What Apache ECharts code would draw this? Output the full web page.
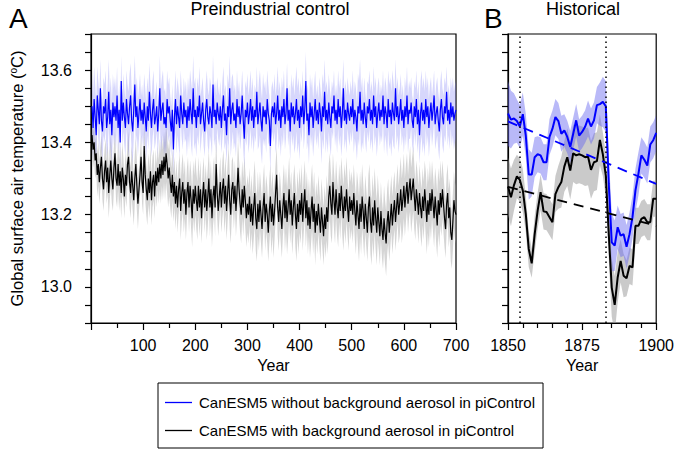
<!DOCTYPE html>
<html><head><meta charset="utf-8">
<script src="https://cdn.jsdelivr.net/npm/echarts@6/dist/echarts.min.js"></script>
<style>html,body{margin:0;padding:0;background:#fff}#c{width:677px;height:451px}</style>
</head><body><div id="c"></div>
<script>
const seriesNames = ['CanESM5 without background aerosol in piControl', 'CanESM5 with background aerosol in piControl'];
const panelTitles = ['Preindustrial control', 'Historical'];
const panelLetters = ['A', 'B'];
const yAxisTitle = 'Global surface air temperature (';
const xAxisTitle = 'Year';

// Panel A: preindustrial control, one value every 2 years (years 2..700)
const piYearStep = 2;
const piBlue = [
13.50,13.44,13.52,13.47,13.42,13.53,13.49,13.45,13.55,13.46,13.43,13.50,13.48,13.52,13.44,13.47,13.54,13.45,13.49,13.42,13.51,13.47,13.50,13.46,13.53,
13.44,13.49,13.40,13.57,13.46,13.51,13.47,13.44,13.52,13.48,13.45,13.50,13.53,13.46,13.43,13.49,13.56,13.47,13.50,13.44,13.48,13.52,13.46,13.49,13.45,
13.51,13.47,13.43,13.50,13.46,13.54,13.48,13.44,13.49,13.52,13.45,13.47,13.50,13.43,13.48,13.55,13.46,13.49,13.51,13.45,13.47,13.44,13.52,13.48,13.50,
13.46,13.43,13.49,13.38,13.47,13.52,13.45,13.50,13.47,13.44,13.53,13.48,13.45,13.51,13.47,13.49,13.44,13.50,13.46,13.52,13.48,13.45,13.55,13.47,13.49,
13.44,13.50,13.47,13.53,13.45,13.48,13.51,13.46,13.43,13.49,13.52,13.47,13.45,13.50,13.48,13.44,13.56,13.47,13.49,13.45,13.51,13.48,13.46,13.50,13.44,
13.49,13.53,13.46,13.48,13.42,13.50,13.47,13.55,13.45,13.49,13.51,13.46,13.48,13.44,13.52,13.47,13.50,13.45,13.48,13.53,13.46,13.41,13.49,13.47,13.51,
13.45,13.48,13.52,13.46,13.50,13.44,13.49,13.47,13.54,13.45,13.48,13.51,13.46,13.43,13.50,13.47,13.49,13.45,13.52,13.48,13.46,13.39,13.48,13.50,13.47,
13.51,13.45,13.48,13.53,13.46,13.49,13.44,13.50,13.47,13.52,13.45,13.48,13.55,13.46,13.49,13.43,13.51,13.47,13.50,13.45,13.48,13.52,13.46,13.49,13.44,
13.50,13.47,13.53,13.45,13.49,13.57,13.46,13.48,13.42,13.51,13.47,13.50,13.44,13.48,13.52,13.46,13.49,13.45,13.51,13.48,13.43,13.50,13.47,13.54,13.46,
13.49,13.45,13.51,13.47,13.44,13.50,13.48,13.53,13.46,13.49,13.45,13.52,13.47,13.50,13.44,13.48,13.55,13.46,13.49,13.45,13.51,13.48,13.46,13.50,13.47,
13.52,13.45,13.49,13.47,13.43,13.50,13.48,13.54,13.46,13.49,13.45,13.51,13.47,13.44,13.50,13.48,13.52,13.46,13.49,13.45,13.53,13.47,13.50,13.44,13.48,
13.51,13.46,13.49,13.47,13.53,13.45,13.50,13.48,13.44,13.52,13.47,13.49,13.45,13.51,13.48,13.46,13.55,13.47,13.50,13.45,13.48,13.52,13.46,13.49,13.44,
13.50,13.47,13.53,13.45,13.49,13.48,13.51,13.46,13.44,13.50,13.47,13.52,13.45,13.49,13.42,13.48,13.51,13.46,13.49,13.45,13.52,13.47,13.50,13.44,13.48,
13.51,13.46,13.49,13.53,13.45,13.48,13.50,13.46,13.43,13.49,13.52,13.47,13.45,13.50,13.48,13.54,13.46,13.49,13.45,13.51,13.47,13.50,13.46,13.48,13.49
];
const piBlack = [
13.42,13.38,13.40,13.35,13.37,13.31,13.34,13.29,13.33,13.36,13.30,13.27,13.32,13.35,13.29,13.33,13.26,13.31,13.35,13.30,13.27,13.33,13.37,13.30,13.28,
13.34,13.28,13.32,13.26,13.33,13.30,13.25,13.31,13.28,13.34,13.36,13.29,13.26,13.32,13.28,13.24,13.30,13.34,13.28,13.23,13.27,13.31,13.36,13.29,13.26,
13.39,13.31,13.27,13.24,13.30,13.26,13.32,13.24,13.29,13.31,13.25,13.32,13.28,13.33,13.29,13.34,13.30,13.35,13.31,13.36,13.32,13.37,13.34,13.30,13.33,
13.29,13.26,13.31,13.25,13.29,13.23,13.28,13.22,13.27,13.30,13.21,13.26,13.29,13.23,13.27,13.20,13.26,13.29,13.22,13.28,13.24,13.19,13.27,13.23,13.28,
13.24,13.21,13.28,13.22,13.27,13.19,13.25,13.29,13.22,13.27,13.21,13.25,13.30,13.22,13.27,13.19,13.25,13.28,13.22,13.34,13.26,13.21,13.25,13.29,13.22,
13.27,13.30,13.23,13.28,13.21,13.26,13.31,13.24,13.20,13.27,13.29,13.23,13.28,13.21,13.26,13.33,13.27,13.23,13.20,13.27,13.22,13.28,13.24,13.19,13.23,
13.20,13.25,13.18,13.23,13.17,13.22,13.26,13.19,13.16,13.23,13.18,13.24,13.20,13.16,13.22,13.26,13.18,13.23,13.20,13.15,13.21,13.25,13.18,13.23,13.17,
13.21,13.26,13.31,13.22,13.18,13.24,13.20,13.16,13.22,13.26,13.19,13.24,13.18,13.22,13.27,13.20,13.24,13.17,13.22,13.26,13.20,13.16,13.23,13.18,13.24,
13.20,13.26,13.18,13.23,13.27,13.19,13.24,13.17,13.22,13.16,13.21,13.25,13.18,13.23,13.15,13.21,13.17,13.23,13.19,13.15,13.22,13.18,13.14,13.20,13.16,
13.22,13.18,13.25,13.28,13.23,13.20,13.29,13.24,13.20,13.27,13.22,13.19,13.26,13.21,13.28,13.23,13.19,13.25,13.21,13.27,13.22,13.18,13.25,13.21,13.24,
13.20,13.26,13.21,13.17,13.24,13.20,13.16,13.23,13.18,13.25,13.21,13.16,13.23,13.19,13.15,13.22,13.25,13.18,13.15,13.22,13.17,13.24,13.19,13.15,13.22,
13.18,13.14,13.21,13.16,13.13,13.19,13.15,13.12,13.18,13.21,13.15,13.19,13.23,13.17,13.21,13.24,13.18,13.22,13.26,13.20,13.23,13.27,13.21,13.24,13.28,
13.22,13.26,13.29,13.23,13.27,13.30,13.24,13.27,13.30,13.25,13.21,13.27,13.24,13.20,13.26,13.22,13.19,13.25,13.21,13.27,13.23,13.18,13.24,13.20,13.26,
13.21,13.27,13.23,13.19,13.25,13.21,13.17,13.24,13.20,13.26,13.22,13.27,13.23,13.19,13.16,13.23,13.26,13.19,13.22,13.15,13.13,13.18,13.24,13.21,13.20
];
// ensemble half-spread, one value per decade
const piBlueSpread = [
0.09,0.08,0.08,0.09,0.08,0.07,0.08,0.09,0.08,0.07,0.08,0.08,0.07,0.09,0.08,0.07,0.08,0.07,0.08,0.09,
0.08,0.07,0.08,0.08,0.07,0.08,0.09,0.08,0.07,0.08,0.08,0.07,0.09,0.08,0.07,0.08,0.08,0.07,0.08,0.09,
0.07,0.08,0.08,0.07,0.09,0.08,0.07,0.08,0.08,0.07,0.08,0.09,0.07,0.08,0.08,0.07,0.08,0.09,0.08,0.07,
0.08,0.07,0.08,0.09,0.08,0.07,0.08,0.08,0.07,0.08
];
const piBlackSpread = [
0.05,0.06,0.06,0.07,0.06,0.07,0.06,0.07,0.07,0.06,0.07,0.07,0.06,0.07,0.08,0.07,0.07,0.08,0.07,0.08,
0.08,0.07,0.08,0.08,0.07,0.08,0.08,0.07,0.08,0.08,0.08,0.09,0.08,0.08,0.09,0.08,0.08,0.09,0.08,0.09,
0.08,0.08,0.09,0.08,0.08,0.09,0.08,0.08,0.09,0.08,0.08,0.09,0.08,0.09,0.09,0.08,0.09,0.08,0.08,0.09,
0.08,0.09,0.08,0.08,0.09,0.08,0.09,0.08,0.08,0.08
];

// Panel B: historical 1850..1900
const histStart = 1850;
const histBlue = [13.480,13.463,13.466,13.459,13.444,13.478,13.419,13.311,13.311,13.359,
13.367,13.364,13.345,13.345,13.415,13.438,13.470,13.459,13.424,13.433,
13.415,13.387,13.424,13.461,13.419,13.429,13.443,13.466,13.444,13.461,
13.503,13.506,13.512,13.500,13.285,13.123,13.114,13.165,13.142,13.146,
13.111,13.146,13.193,13.267,13.313,13.364,13.352,13.336,13.394,13.406,13.426];
const histBlack = [13.278,13.248,13.281,13.306,13.296,13.267,13.202,13.105,13.065,13.146,
13.211,13.262,13.209,13.207,13.193,13.179,13.257,13.276,13.290,13.333,
13.359,13.322,13.370,13.364,13.367,13.364,13.359,13.361,13.324,13.345,
13.348,13.407,13.367,13.308,13.146,12.998,12.950,13.026,13.072,13.031,
13.024,13.058,13.054,13.169,13.169,13.188,13.193,13.179,13.179,13.244,13.244];
const histBlueSpread = [0.09,0.08,0.07,0.06,0.06,0.06,0.06,0.07,0.06,0.055,
0.05,0.05,0.05,0.05,0.05,0.05,0.05,0.05,0.05,0.045,
0.045,0.045,0.045,0.045,0.045,0.045,0.045,0.05,0.05,0.05,
0.05,0.06,0.07,0.07,0.08,0.08,0.07,0.06,0.06,0.06,
0.06,0.06,0.06,0.06,0.06,0.05,0.05,0.05,0.05,0.05,0.05];
const histBlackSpread = [0.08,0.08,0.07,0.06,0.06,0.06,0.05,0.05,0.04,0.05,
0.05,0.05,0.05,0.05,0.05,0.05,0.05,0.06,0.07,0.07,
0.08,0.08,0.08,0.08,0.08,0.08,0.08,0.08,0.08,0.08,
0.08,0.07,0.06,0.06,0.07,0.08,0.08,0.07,0.06,0.06,
0.05,0.05,0.05,0.05,0.05,0.05,0.05,0.05,0.05,0.05,0.05];
const trendYears = [1850, 1900];
const trendBlue = [13.458, 13.285];
const trendBlack = [13.277, 13.169];
const eruptionYears = [1854, 1883];

const FONT = '"Liberation Sans", Arial, Helvetica, sans-serif';
const BLUE = '#0000ff', BLACK = '#000000';
const piX = piBlue.map((_, i) => (i + 1) * piYearStep);
const histX = histBlue.map((_, i) => histStart + i);
const pair = (xs, ys) => xs.map((x, i) => [x, ys[i]]);

function band(xs, mean, spreadAt, color, idx) {
  return {
    type: 'custom', xAxisIndex: idx, yAxisIndex: idx, silent: true, z: 1,
    data: [[xs[0], mean[0]]],
    renderItem: (params, api) => {
      const up = xs.map((x, i) => api.coord([x, mean[i] + spreadAt(i)]));
      const lo = xs.map((x, i) => api.coord([x, mean[i] - spreadAt(i)])).reverse();
      const cs = params.coordSys;
      return {
        type: 'polygon', shape: { points: up.concat(lo) }, style: { fill: color },
        clipPath: { type: 'rect', shape: { x: cs.x, y: cs.y, width: cs.width, height: cs.height } }
      };
    }
  };
}
function line(name, data, color, width, idx, extra) {
  return Object.assign({
    name, type: 'line', xAxisIndex: idx, yAxisIndex: idx, data, symbol: 'none', showSymbol: false,
    lineStyle: { color, width }, itemStyle: { color }, z: 3, silent: true
  }, extra || {});
}

const yLab = v => { const r = Math.round(v * 10); return r % 2 === 0 ? v.toFixed(1) : ''; };
const yAxisBase = {
  type: 'value', min: 12.9, max: 13.7, interval: 0.1,
  axisLine: { show: true, lineStyle: { color: '#000', width: 1.2 } },
  axisTick: { show: true, inside: false, length: 6, lineStyle: { color: '#000', width: 1.2 } },
  minorTick: { show: true, splitNumber: 2, length: 6, lineStyle: { color: '#000', width: 1.2 } },
  splitLine: { show: false },
  axisLabel: { fontSize: 16, color: '#000', fontFamily: FONT, margin: 19, formatter: yLab }
};
const xAxisBase = {
  type: 'value',
  axisLine: { show: true, onZero: false, lineStyle: { color: '#000', width: 1.2 } },
  axisTick: { show: true, length: 7, lineStyle: { color: '#000', width: 1.2 } },
  minorTick: { show: true, length: 5, lineStyle: { color: '#000', width: 1.2 } },
  splitLine: { show: false },
  name: xAxisTitle, nameLocation: 'middle', nameGap: 31,
  nameTextStyle: { fontSize: 16, color: '#000', fontFamily: FONT },
  axisLabel: { fontSize: 16, color: '#000', fontFamily: FONT, margin: 14 }
};

const option = {
  animation: false,
  backgroundColor: '#fff',
  textStyle: { fontFamily: FONT },
  grid: [
    { left: 83, top: 34, width: 373, height: 289, show: true, borderColor: '#000', borderWidth: 1.2, backgroundColor: 'transparent' },
    { left: 508, top: 34, width: 149, height: 289, show: true, borderColor: '#000', borderWidth: 1.2, backgroundColor: 'transparent' }
  ],
  xAxis: [
    Object.assign({}, xAxisBase, { gridIndex: 0, min: 0, max: 700, interval: 100,
      minorTick: Object.assign({}, xAxisBase.minorTick, { splitNumber: 2 }),
      axisLabel: Object.assign({}, xAxisBase.axisLabel, { formatter: v => v === 0 ? '' : String(v) }) }),
    Object.assign({}, xAxisBase, { gridIndex: 1, min: 1850, max: 1900, interval: 25,
      minorTick: Object.assign({}, xAxisBase.minorTick, { splitNumber: 5 }),
      axisLabel: Object.assign({}, xAxisBase.axisLabel, { formatter: v => String(v) }) })
  ],
  yAxis: [
    Object.assign({}, yAxisBase, { gridIndex: 0,
      name: '{t|' + yAxisTitle + '}{s|o}{t|C)}', nameLocation: 'middle', nameGap: 66,
      nameTextStyle: { color: '#000', rich: {
        t: { fontSize: 16.5, fontFamily: FONT, color: '#000' },
        s: { fontSize: 10, fontFamily: FONT, color: '#000', verticalAlign: 'top', padding: [0, 0, 7, 0] } } } }),
    Object.assign({}, yAxisBase, { gridIndex: 1, axisLabel: { show: false } })
  ],
  legend: {
    data: seriesNames, orient: 'vertical', left: 158, top: 383,
    padding: [12, 8, 10, 7], itemGap: 13, itemWidth: 27, itemHeight: 1.3, icon: 'rect',
    borderColor: '#000', borderWidth: 1, backgroundColor: '#fff',
    textStyle: { fontSize: 15, color: '#000', fontFamily: FONT, padding: [0, 0, 0, 2], lineHeight: 15 },
    selectedMode: false
  },
  graphic: [
    { type: 'text', left: 9, top: 4, style: { text: panelLetters[0], fontSize: 28, fontFamily: FONT, fill: '#000' } },
    { type: 'text', left: 484, top: 4, style: { text: panelLetters[1], fontSize: 28, fontFamily: FONT, fill: '#000' } },
    { type: 'text', x: 270, y: 0, style: { text: panelTitles[0], fontSize: 18, fontFamily: FONT, fill: '#000', textAlign: 'center', textVerticalAlign: 'top' } },
    { type: 'text', x: 583, y: 0, style: { text: panelTitles[1], fontSize: 18, fontFamily: FONT, fill: '#000', textAlign: 'center', textVerticalAlign: 'top' } }
  ],
  series: [
    band(piX, piBlack, i => piBlackSpread[Math.floor(i / 5)], 'rgba(150,150,150,0.4)', 0),
    band(piX, piBlue, i => piBlueSpread[Math.floor(i / 5)], 'rgba(110,110,245,0.28)', 0),
    line(seriesNames[1], pair(piX, piBlack), BLACK, 1.2, 0),
    line(seriesNames[0], pair(piX, piBlue), BLUE, 1.2, 0),
    band(histX, histBlack, i => histBlackSpread[i], 'rgba(150,150,150,0.5)', 1),
    band(histX, histBlue, i => histBlueSpread[i], 'rgba(100,100,240,0.45)', 1),
    line(seriesNames[1], pair(histX, histBlack), BLACK, 2, 1),
    line(seriesNames[0], pair(histX, histBlue), BLUE, 2, 1, {
      markLine: { silent: true, symbol: ['none', 'none'], label: { show: false },
        lineStyle: { color: '#000', width: 1.5, type: [1.5, 3.5] },
        data: eruptionYears.map(y => ({ xAxis: y })) }
    }),
    line('trendBlack', pair(trendYears, trendBlack), BLACK, 1.8, 1, { lineStyle: { color: BLACK, width: 1.8, type: [10, 7] } }),
    line('trendBlue', pair(trendYears, trendBlue), BLUE, 1.8, 1, { lineStyle: { color: BLUE, width: 1.8, type: [10, 7] } })
  ]
};
const chart = echarts.init(document.getElementById('c'), null, { renderer: 'svg' });
chart.setOption(option);
</script></body></html>
